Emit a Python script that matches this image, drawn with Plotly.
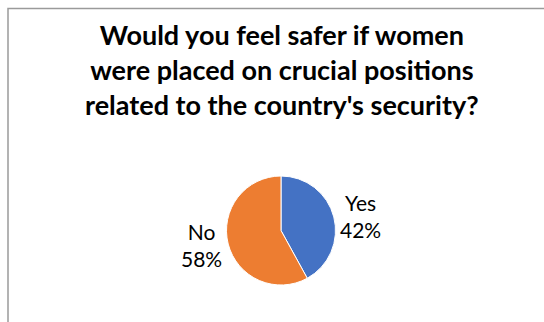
import math
import plotly.graph_objects as go

# Survey answers
answers = ["Yes", "No"]
shares = [42, 58]
slice_colors = ["#4472C4", "#ED7D31"]

title_lines = [
    "Would you feel safer if women",
    "were placed on crucial positions",
    "related to the country's security?",
]

W, H = 544, 322

# pie placement in pixels
cx, cy, r = 281.0, 230.5, 54.5
label_gap = 4.0

fig = go.Figure(
    go.Pie(
        labels=answers,
        values=shares,
        sort=False,
        direction="clockwise",
        rotation=0,
        marker=dict(colors=slice_colors, line=dict(color="white", width=1)),
        textinfo="none",
        showlegend=False,
        hoverinfo="label+percent",
        domain=dict(x=[(cx - r) / W, (cx + r) / W], y=[1 - (cy + r) / H, 1 - (cy - r) / H]),
    )
)

# data labels outside each slice, along the slice's mid-angle
total = sum(shares)
start = 0.0
for name, v in zip(answers, shares):
    frac = v / total
    mid = (start + frac / 2) * 2 * math.pi
    start += frac
    dx, dy = math.sin(mid), -math.cos(mid)
    px = cx + (r + label_gap) * dx
    py = cy + (r + label_gap) * dy
    fig.add_annotation(
        text=f"{name}<br>{round(frac * 100)}%",
        xref="paper", yref="paper",
        x=px / W, y=1 - py / H,
        xanchor="left" if dx >= 0 else "right",
        yanchor="middle",
        showarrow=False,
        align="center",
        font=dict(family="Lato", size=21, color="#000000"),
    )

fig.add_annotation(
    text="<br>".join(title_lines),
    xref="paper", yref="paper",
    x=282 / W, y=1 - 16 / H,
    xanchor="center", yanchor="top",
    showarrow=False,
    align="center",
    font=dict(family="Lato", size=27, color="#000000", weight="bold"),
)

# chart frame (its right and bottom edges fall outside the visible page)
fig.add_shape(
    type="rect", xref="paper", yref="paper",
    x0=8 / W, x1=1.2, y0=-0.2, y1=1 - 8.5 / H,
    line=dict(color="#9a9a9a", width=1.5),
    fillcolor="rgba(0,0,0,0)",
)

fig.update_layout(
    width=W, height=H,
    margin=dict(l=0, r=0, t=0, b=0),
    paper_bgcolor="white",
    plot_bgcolor="white",
)

fig.write_html("out.html")
